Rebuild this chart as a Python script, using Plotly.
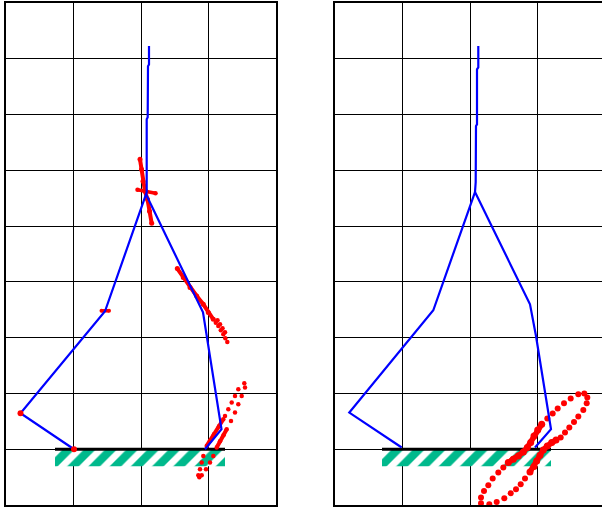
import plotly.graph_objects as go

# ---------------- data (x: horizontal position, y: height; ground at y=0) ----------------
# Left panel skeleton (blue)
L_skel_x = [-67, -120.5, -36, 5, 62, 67, 80.5, 64, None, 5, 5.7, 5.7, 6.7, 7, 8, 8]
L_skel_y = [0, 36, 138, 255, 137, 105, 20, 0, None, 255, 257, 330, 332, 383, 385, 403.3]
# Right panel skeleton (blue)
R_skel_x = [-68.3, -120.7, -36.7, 5, 60, 66, 81, 65, None, 5, 5.7, 6, 7, 7, 8.3, 8.3]
R_skel_y = [1.7, 36.7, 139, 257.3, 145, 113.3, 20, 1.7, None, 257.3, 267.3, 323.3, 325, 380, 382, 403.3]

# Ground extents
L_ground_x = [-86, 84]
R_ground_x = [-88, 81]
ground_depth = -17

# Left panel uncertainty ellipses (red)
L_hip_v_x = [-1, 0.5, 2, 4, 6.5, 8.5, 10.7]
L_hip_v_y = [290, 280, 268, 258, 250, 238, 226]
L_hip_h_x = [-3.5, 5, 14.5]
L_hip_h_y = [259.5, 258, 256]
L_kneeL_x = [-39.5, -32]
L_kneeL_y = [138.5, 138.5]
L_kneeR_dense_x = [36.3, 42.3, 49, 55.7, 62.3, 67.3, 72.3]
L_kneeR_dense_y = [180.7, 171.7, 161.7, 153.3, 145, 136.7, 130]
L_kneeR_dots_x = [74.8, 77.3, 79.8, 82.3, 84.3, 86.3, 76.5, 79, 81.5, 84]
L_kneeR_dots_y = [126.5, 123.3, 119, 115, 111, 107.3, 129, 125, 121, 117]
L_foot_dots_x = [103.3, 97.3, 94, 90.7, 87.3, 84, 62.3, 60.7, 59, 57.3, 58.3,
                 60.7, 65, 69, 72.3, 90, 94, 97.3, 100.7, 104]
L_foot_dots_y = [66, 60, 53.3, 46.7, 40, 33.3, -6.7, -13.3, -20, -26, -28,
                 -26, -20, -13.3, -6.7, 28.3, 36.7, 45, 53.3, 61.7]
L_foot_dense1_x = [82.3, 78, 73, 69, 65.7]
L_foot_dense1_y = [30, 23, 15, 8.5, 3.3]
L_foot_dense2_x = [75.7, 79, 82.5, 85.7]
L_foot_dense2_y = [1.7, 8, 14, 20]
L_joint_dots_x = [-120.5, -67]
L_joint_dots_y = [36, 0]

# Right panel foot ellipse (red)
R_foot_dots_x = [11, 11, 14, 18.3, 22.7, 28.3, 33.3,
                 77.3, 82.7, 87.7, 94, 100.7, 108.3, 114.3, 117.3, 116.7, 113.3, 108.3, 104, 99.3, 95, 90.7,
                 55, 50.7, 46, 40.7, 34.3, 26.7, 19.3]
R_foot_dots_y = [-54, -48.3, -41.7, -36, -29.3, -23.3, -18.3,
                 30.7, 35.7, 40.7, 46, 50.7, 55, 55.7, 51.7, 46, 39.3, 32.7, 27.3, 21.7, 16.7, 11.7,
                 -29.3, -35, -40, -44, -49, -52.7, -55]
R_foot_dense1_x = [38.3, 43.3, 48.3, 53.3, 57.3, 60.7, 64, 67.7, 71.7]
R_foot_dense1_y = [-13.3, -10, -6.7, -2.7, 1.7, 6.7, 13.3, 19.3, 25]
R_foot_dense2_x = [86, 81.7, 77.3, 73.3, 70, 66.7, 64, 60]
R_foot_dense2_y = [9.3, 6.7, 3.3, -0.7, -6, -11.7, -17.3, -22.7]

RED = "#ff0000"
BLUE = "#0000ff"
TEAL = "#00b98c"

fig = go.Figure()


def add_ground(gx, xa, ya):
    fig.add_trace(go.Scatter(
        x=[gx[0], gx[1], gx[1], gx[0], gx[0]],
        y=[0, 0, ground_depth, ground_depth, 0],
        fill="toself", fillcolor="white", mode="lines", line=dict(width=0),
        fillpattern=dict(shape="/", fgcolor=TEAL, bgcolor="white", fgopacity=1,
                         size=15, solidity=0.55),
        xaxis=xa, yaxis=ya, hoverinfo="skip"))
    fig.add_trace(go.Scatter(x=gx, y=[0, 0], mode="lines", line=dict(color="black", width=3),
                             xaxis=xa, yaxis=ya, hoverinfo="skip"))


def add_line(x, y, xa, ya, w, color=RED, ms=0):
    fig.add_trace(go.Scatter(x=x, y=y, mode="lines+markers" if ms else "lines",
                             line=dict(color=color, width=w),
                             marker=dict(color=color, size=ms if ms else 1, line=dict(width=0)),
                             xaxis=xa, yaxis=ya, hoverinfo="skip"))


def add_dots(x, y, xa, ya, s):
    fig.add_trace(go.Scatter(x=x, y=y, mode="markers", marker=dict(color=RED, size=s, line=dict(width=0)),
                             xaxis=xa, yaxis=ya, hoverinfo="skip"))


# Left panel
add_ground(L_ground_x, "x", "y")
add_line(L_hip_v_x, L_hip_v_y, "x", "y", 4, ms=5)
add_line(L_hip_h_x, L_hip_h_y, "x", "y", 3.5, ms=4.5)
add_line(L_kneeL_x, L_kneeL_y, "x", "y", 3.5, ms=4)
add_line(L_kneeR_dense_x, L_kneeR_dense_y, "x", "y", 4, ms=5)
add_dots(L_kneeR_dots_x, L_kneeR_dots_y, "x", "y", 4.5)
add_dots(L_foot_dots_x, L_foot_dots_y, "x", "y", 4.5)
add_line(L_foot_dense1_x, L_foot_dense1_y, "x", "y", 4, ms=4.5)
add_line(L_foot_dense2_x, L_foot_dense2_y, "x", "y", 4, ms=4.5)
add_line(L_skel_x, L_skel_y, "x", "y", 2.2, BLUE)
add_dots(L_joint_dots_x, L_joint_dots_y, "x", "y", 6)

# Right panel
add_ground(R_ground_x, "x2", "y2")
add_dots(R_foot_dots_x, R_foot_dots_y, "x2", "y2", 6)
add_line(R_foot_dense1_x, R_foot_dense1_y, "x2", "y2", 5.5, ms=7)
add_line(R_foot_dense2_x, R_foot_dense2_y, "x2", "y2", 5.5, ms=7)
add_line(R_skel_x, R_skel_y, "x2", "y2", 2.2, BLUE)

W, H = 602, 509
ydom = [(H - 505) / H, (H - 3) / H]
common_x = dict(showticklabels=False, ticks="", showgrid=True, gridcolor="black", gridwidth=1.4,
                zeroline=False, dtick=67.5, tick0=0, showline=True, linecolor="black", linewidth=1.6)
common_y = dict(showticklabels=False, ticks="", showgrid=True, gridcolor="black", gridwidth=1.4,
                zeroline=False, dtick=55.8, tick0=0, showline=True, linecolor="black", linewidth=1.6,
                range=[-55.8, 446.4])

fig.update_layout(
    width=W, height=H, margin=dict(l=0, r=0, t=0, b=0),
    paper_bgcolor="white", plot_bgcolor="white", showlegend=False,
    xaxis=dict(domain=[6 / W, 276 / W], range=[-135, 135], mirror=True, **common_x),
    yaxis=dict(domain=ydom, anchor="x", mirror=True, **common_y),
    xaxis2=dict(domain=[335 / W, 1.0], range=[-135, 132], anchor="y2", mirror=True, **common_x),
    yaxis2=dict(domain=ydom, anchor="x2", mirror=False, **common_y),
)

fig.write_html("out.html")
